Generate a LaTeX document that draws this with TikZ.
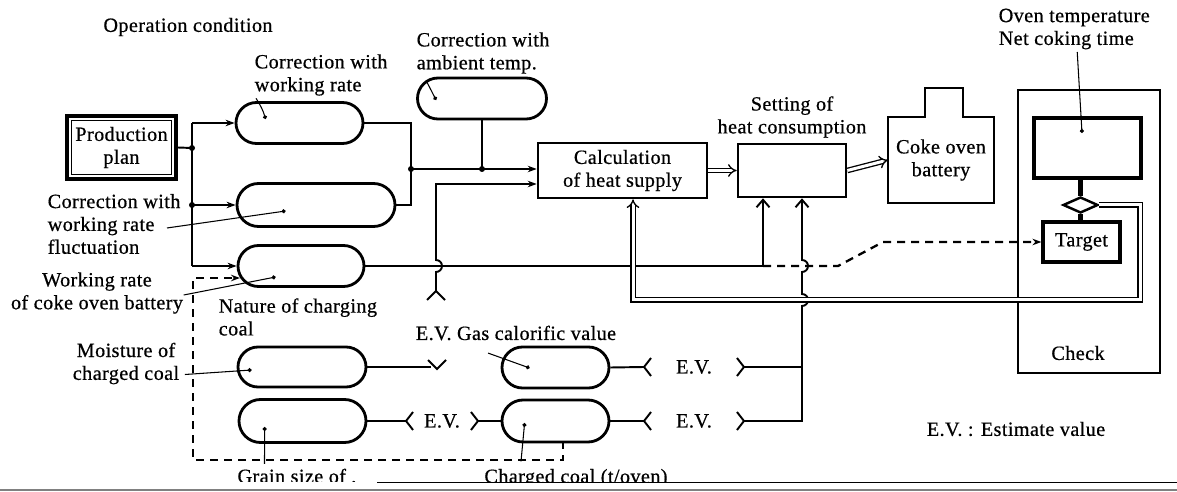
\documentclass[tikz,border=0pt]{standalone}
\usepackage{fontspec}
\setmainfont[LetterSpace=2,FakeBold=0.6]{Liberation Serif}
\usetikzlibrary{arrows.meta,shapes.misc,shapes.geometric,calc}

\tikzset{
    caps/.style={draw, rounded rectangle, line width=1.6pt, minimum width=#1, minimum height=8.2mm, inner sep=0pt},
    box/.style={draw, line width=1.5pt, inner sep=0pt, align=center},
    lbl/.style={inner sep=1pt, align=left, anchor=west},
    evn/.style={inner sep=0pt, minimum height=4mm},
    arr/.style={-{Stealth[length=1.8mm,width=1.3mm]}},
    barb/.style={-{Straight Barb[length=1.5mm,width=2.6mm]}},
    dbl/.style={double, line width=0.75pt, double distance=0.6mm, -{Implies}},
    lead/.style={line width=0.6pt, -{Circle[length=0.8mm]}},
    dsh/.style={line width=1.3pt, dash pattern=on 1.6mm off 1.2mm},
}

\begin{document}
\begin{tikzpicture}[x=0.2mm, y=-0.2mm, line width=1.1pt, font=\fontsize{11.5}{13}\selectfont]
    \useasboundingbox (0,0) rectangle (1177,492);

    \node (opc) at (188,27) {Operation condition};

    % production plan
    \node[box, line width=1.8pt, minimum width=21.8mm, minimum height=12.6mm] (plan) at (121.5,147.5) {Production\\plan};
    \draw[line width=0.9pt] ($(plan.north west)+(6,6)$) rectangle ($(plan.south east)+(-6,-6)$);

    % corrections
    \node[caps=25.4mm] (cwr) at (299.5,123) {};
    \node[caps=31.6mm, minimum height=8.6mm] (cwrf) at (316,205) {};
    \node[caps=25.2mm] (wrcb) at (301,266) {};
    \node[caps=25.8mm] (amb) at (482,98.5) {};
    \node[lbl] (lcwr) at (252,75) {Correction with\\working rate};
    \node[lbl] (lamb) at (414,53) {Correction with\\ambient temp.};
    \node[lbl] (lcwrf) at (45,224) {Correction with\\working rate\\fluctuation};
    \node[lbl, align=center, anchor=center] (lwrcb) at (97,293) {Working rate\\of coke oven battery};
    \node[lbl] (lnat) at (216,317) {Nature of charging\\coal};

    % charging coal
    \node[caps=25.6mm, minimum height=8mm] (moist) at (302,367) {};
    \node[caps=25.4mm, minimum height=8.6mm] (grain) at (302.5,421) {};
    \node[caps=21.4mm] (gas) at (555.5,367.5) {};
    \node[caps=21.4mm, minimum height=8.4mm] (chg) at (555.5,421) {};
    \node[lbl, align=center, anchor=center] (lmoist) at (126,363.5) {Moisture of\\charged coal};
    \node (lgas) at (516,333) {E.V. Gas calorific value};
    \node[evn, minimum width=14mm] (ev1) at (442,421) {E.V.};
    \node[evn, minimum width=19.6mm] (ev2) at (694,367) {E.V.};
    \node[evn, minimum width=19.6mm] (ev3) at (694,421) {E.V.};

    % calculation / setting / battery
    \node[box, minimum width=33.8mm, minimum height=11mm] (calc) at (622.5,170.5) {Calculation\\of heat supply};
    \node[box, minimum width=21.6mm, minimum height=10.6mm] (set) at (792,170.5) {};
    \node[align=center] (lset) at (792,117) {Setting of\\heat consumption};
    \node[minimum width=20.8mm, minimum height=16.8mm, align=center] (bat) at (941,160) {Coke oven\\battery};
    \draw[line width=1.6pt] (bat.south west) -- (bat.north west) -- ($(bat.north)+(-16,0)$) -- ++(0,-29) -- ++(38,0) -- ++(0,29) -- (bat.north east) -- (bat.south east) -- cycle;

    % check
    \node[draw, line width=1pt, minimum width=28.4mm, minimum height=56.6mm] (chk) at (1089,231.5) {};
    \node (chktxt) at (1078,353) {Check};
    \node[box, line width=1.8pt, minimum width=21.4mm, minimum height=12mm] (oven) at (1087.5,148) {};
    \node[draw, diamond, line width=1.4pt, minimum width=7mm, minimum height=3.2mm, inner sep=0pt] (dia) at (1080.5,205) {};
    \node[box, line width=1.8pt, minimum width=15.4mm, minimum height=8mm] (tgt) at (1081.5,242) {Target};
    \node[lbl] (loven) at (996,29) {Oven temperature\\Net coking time};
    \node (lev) at (1016,429) {E.V. : Estimate value};

    % bus from production plan
    \coordinate (jA) at (192,148);
    \coordinate (b1) at (192,123);
    \coordinate (b2) at (192,205);
    \coordinate (b3) at (192,266);
    \draw (plan.east) -- (jA);
    \draw (b1) -- (b3);
    \draw[arr] (b1) -- (cwr.west);
    \draw[arr] (b2) -- (cwrf.west);
    \draw[arr] (b3) -- (wrcb.west);
    \fill (jA) circle (0.6mm) (b2) circle (0.6mm);

    % into calculation
    \coordinate (jB) at (411,169);
    \coordinate (jC) at (482,169);
    \draw (cwr.east) -| (jB);
    \draw (cwrf.east) -| (jB);
    \draw[arr] (jB) -- (jB -| calc.west);
    \draw (amb.south) -- (jC);
    \fill (jB) circle (0.6mm) (jC) circle (0.6mm);
    \coordinate (k1) at (436,291);
    \coordinate (k2) at (436,184);
    \draw[arr] (k1) -- ++(0,-19) arc[start angle=90, end angle=-90, radius=6] -- (k2) -- (k2 -| calc.west);
    \draw (k1) ++(-9,9) -- (k1) -- ++(9,9);
    \coordinate (k3) at (437,369);
    \draw (moist.east) -- ++(64,0);
    \draw (k3) ++(-9,-9) -- (k3) -- ++(9,-9);

    % E.V. lines
    \foreach \n in {ev1,ev2,ev3}
        \draw (\n.west) ++(7,-9) -- (\n.west) -- ++(7,9) (\n.east) ++(-7,-9) -- (\n.east) -- ++(-7,9);
    \draw (grain.east) -- (ev1.west);
    \draw (ev1.east) -- (chg.west);
    \draw (gas.east) -- (ev2.west);
    \draw (chg.east) -- (ev3.west);
    \coordinate (e1) at (802,367);
    \coordinate (e2) at (802,421);
    \draw (ev2.east) -- (e1);
    \draw[barb] (ev3.east) -- (e2) -- ++(0,-115) arc[start angle=90, end angle=-90, radius=6] -- ++(0,-22) arc[start angle=90, end angle=-90, radius=6] -- (e2 |- set.south);

    % working rate line
    \coordinate (jD) at (763,266);
    \draw[barb] (wrcb.east) -- (jD) -- (jD |- set.south);
    \draw[dsh, arr] (jD) -- ++(75,0) -- ++(45,-24) -- (tgt.west);

    % nature of charging coal
    \coordinate (g1) at (563,441);
    \coordinate (g2) at (193,460);
    \coordinate (g3) at (193,278);
    \coordinate (g4) at (240,278);
    \draw[dsh, arr] (g1) -- (g1 |- g2) -- (g2) -- (g3) -- (g4);

    % boxes
    \draw[dbl] (calc.east) -- (set.west);
    \draw[dbl] (set.east) -- (bat.west);
    \draw[line width=2.5pt] (dia.north |- oven.south) -- (dia.north);
    \draw[line width=2.5pt] (dia.south) -- (dia.south |- tgt.north);
    \coordinate (f1) at (1140,300);
    \coordinate (f2) at (633,300);
    \draw[dbl] (dia.east) -| (f1) -- (f2) -- (f2 |- calc.south);

    % leaders
    \draw[lead] ($(lcwr.south west)+(4,0)$) to[bend left=8] ($(cwr.west)+(31,-4)$);
    \draw[lead] ($(lamb.south west)+(13,6)$) -- ($(amb.west)+(20,1.5)$);
    \draw[lead] ($(lcwrf.west)+(122,4)$) -- ($(cwrf.west)+(50,6)$);
    \draw[lead] ($(lwrcb.east)+(-2,2)$) -- ($(wrcb.west)+(39,11)$);
    \draw[lead] ($(lmoist.east)+(3,11)$) -- ($(moist.west)+(15,3)$);
    \draw[lead] ($(grain.south west)+(4,20)$) -- ($(grain.west)+(27,6)$);
    \draw[lead] ($(chg.south west)+(-2,18)$) -- ($(chg.west)+(24,2)$);
    \draw[lead] ($(lgas.south west)+(79,6)$) -- ($(gas.west)+(29,0.5)$);
    \draw[lead] ($(loven.south)+(3,0)$) -- ($(oven.center)+(-5.5,-15)$);

    % cut off at the page edge
    \begin{scope}
        \clip (0,0) rectangle (1177,481);
        \node[anchor=base] (lgrain) at (297,483) {Grain size of ,};
        \node[anchor=base] (lchg) at (576,483) {Charged coal (t/oven)};
    \end{scope}
    \draw[line width=0.8pt] (377,482.5) -- (1177,482.5);
    \draw[gray, line width=0.8pt] (0,490) -- (1177,490);
\end{tikzpicture}
\end{document}
